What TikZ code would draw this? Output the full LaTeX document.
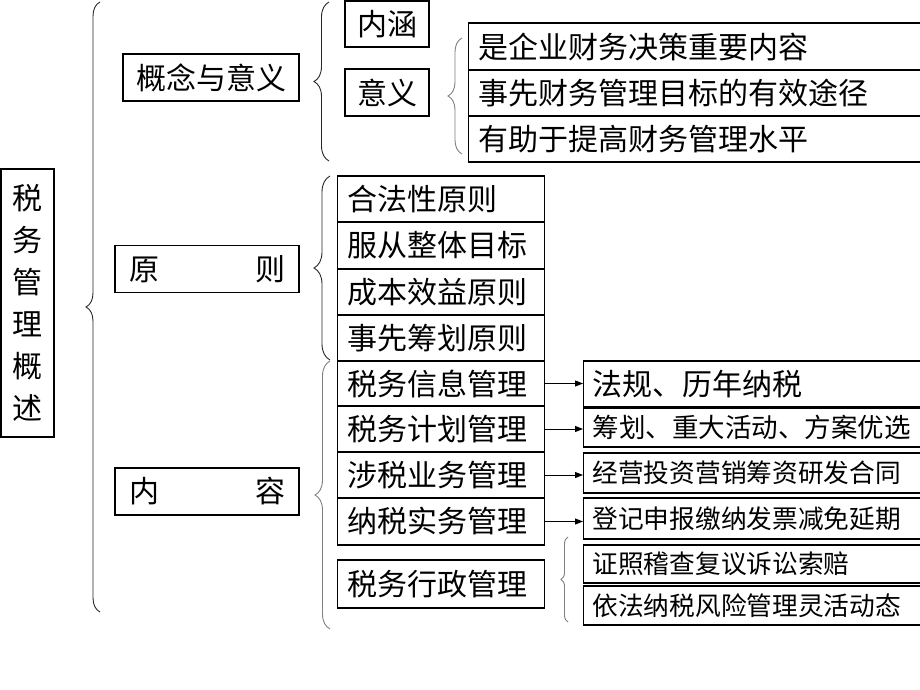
\documentclass[tikz,border=0pt]{standalone}
\usepackage{fontspec}
\newfontfamily\cjk{Noto Sans CJK SC}
\usetikzlibrary{arrows.meta, decorations.pathreplacing}
\newcommand\zhbig{\cjk\fontsize{30pt}{36pt}\selectfont}
\newcommand\zhmid{\cjk\fontsize{26.5pt}{31pt}\selectfont}
\newcommand\zhsmall{\cjk\fontsize{25.7pt}{30pt}\selectfont}
\begin{document}
\begin{tikzpicture}[
  x=1pt, y=-1pt, font=\zhbig,
  box/.style={draw, line width=1.1pt, anchor=west, inner xsep=10pt, inner ysep=0pt,
              align=left},
  root/.style={draw, line width=1.1pt, minimum width=53pt, minimum height=268pt,
               inner sep=0pt, align=center, font=\cjk\fontsize{30pt}{42pt}\selectfont},
  lvl/.style={draw, line width=1.1pt, minimum height=47pt, inner sep=0pt, align=center},
  sub/.style={draw, line width=1.1pt, minimum width=84pt, minimum height=46pt, inner sep=0pt},
  mean/.style={box, text width=452pt, minimum height=46pt},
  prin/.style={box, text width=187pt, minimum height=46pt},
  cont/.style={box, text width=187pt, minimum height=#1},
  det/.style={box, text width=330pt, inner xsep=9pt, minimum height=#1},
  brc/.style={decorate, decoration={brace, amplitude=#1}, line width=0.9pt},
  arr/.style={-{Triangle[length=8pt, width=6pt]}, line width=1pt}]
  \useasboundingbox (0,0) rectangle (920,690);
  \clip (0,0) rectangle (920,690);
  \node[root] (root) at (27.5,303) {税\\务\\管\\理\\概\\述};
  \draw[brc=14pt, black!85] (100,612) -- (100,2);
  \node[lvl, minimum width=176pt] (gn) at (211,77.5) {概念与意义};
  \node[lvl, minimum width=184pt] (yz) at (207,269) {原\hspace{3.2em}则};
  \node[lvl, minimum width=184pt] (nr) at (207,491.5) {内\hspace{3.2em}容};
  \draw[brc=15pt, black!85] (329,161) -- (329,2);
  \node[sub] (nh) at (387,24) {内涵};
  \node[sub, minimum height=47pt] (yy) at (387,92.5) {意义};
  \draw[brc=14pt, gray] (462,154) -- (462,38);
  \node[mean, minimum height=47pt] (m1) at (468,46.5) {是企业财务决策重要内容};
  \node[mean] (m2) at (468,93) {事先财务管理目标的有效途径};
  \node[mean] (m3) at (468,139) {有助于提高财务管理水平};
  \draw[brc=16pt, black!85] (330,360) -- (330,176);
  \node[prin] (p1) at (337,199) {合法性原则};
  \node[prin, minimum height=47pt] (p2) at (337,245.5) {服从整体目标};
  \node[prin] (p3) at (337,292) {成本效益原则};
  \node[prin] (p4) at (337,338) {事先筹划原则};
  \draw[brc=15pt, gray] (330,629) -- (330,361);
  \node[cont=45pt] (c1) at (337,383.5) {税务信息管理};
  \node[cont=46pt] (c2) at (337,429) {税务计划管理};
  \node[cont=46pt] (c3) at (337,475) {涉税业务管理};
  \node[cont=47pt] (c4) at (337,521.5) {纳税实务管理};
  \node[cont=48pt] (c5) at (337,584) {税务行政管理};
  \node[det=46pt] (d1) at (583,384) {法规、历年纳税};
  \node[det=39pt, font=\zhmid] (d2) at (583,427.5) {筹划、重大活动、方案优选};
  \node[det=40pt, font=\zhsmall] (d3) at (583,473) {经营投资营销筹资研发合同};
  \node[det=41pt, font=\zhsmall] (d4) at (583,518.5) {登记申报缴纳发票减免延期};
  \draw[brc=7pt, gray] (568,622) -- (568,537);
  \node[det=38pt, font=\zhsmall] (d5) at (583,564) {证照稽查复议诉讼索赔};
  \node[det=39pt, font=\zhsmall] (d6) at (583,605.5) {依法纳税风险管理灵活动态};
  \draw[arr] (c1.east) -- (c1.east -| d1.west);
  \draw[arr] (c2.east) -- (c2.east -| d2.west);
  \draw[arr] (c3.east) -- (c3.east -| d3.west);
  \draw[arr] (c4.east) -- (c4.east -| d4.west);
\end{tikzpicture}
\end{document}
